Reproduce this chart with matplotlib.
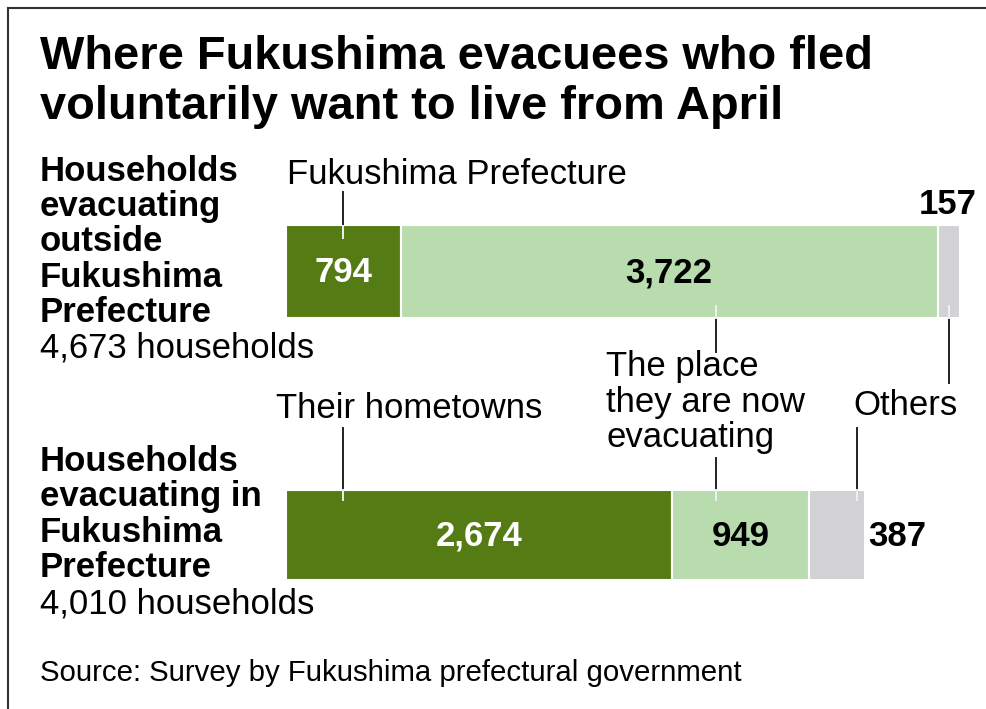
import matplotlib
matplotlib.use("Agg")
import matplotlib.pyplot as plt
from matplotlib.lines import Line2D
from matplotlib.transforms import Affine2D

# data
group_labels = ["Households\nevacuating\noutside\nFukushima\nPrefecture",
                "Households\nevacuating in\nFukushima\nPrefecture"]
totals = ["4,673 households", "4,010 households"]
hometown = [794, 2674]
current_place = [3722, 949]
others = [157, 387]

W, H = 987, 709
DARK = "#557c14"
LIGHT = "#b8dcae"
GREY = "#d2d2d4"
FONT = ["Liberation Sans", "DejaVu Sans"]
LINE_STEP = 35  # px between text lines

fig = plt.figure(figsize=(W / 100, H / 100), dpi=100)
# pixel coordinates, origin top left
pix = Affine2D().scale(1 / W, -1 / H).translate(0, 1) + fig.transFigure

# bar axes: x in households, y in pixels
scale = 0.1443  # px per household
bar_x0 = 286
ax = fig.add_axes([0, 0, 1, 1])
ax.set_xlim(-bar_x0 / scale, (W - bar_x0) / scale)
ax.set_ylim(H, 0)
ax.axis("off")

bar_y = [271.5, 535]
bar_h = [93, 90]
left2 = [a + b for a, b in zip(hometown, current_place)]
ax.barh(bar_y, hometown, height=bar_h, color=DARK, edgecolor="white", linewidth=1.5)
ax.barh(bar_y, current_place, left=hometown, height=bar_h, color=LIGHT,
        edgecolor="white", linewidth=1.5)
ax.barh(bar_y, others, left=left2, height=bar_h, color=GREY,
        edgecolor="white", linewidth=1.5)

# values in bars
NUM = dict(fontsize=25, fontweight="bold", va="center", family=FONT)
for i in range(2):
    ax.text(hometown[i] / 2, bar_y[i] + 1, f"{hometown[i]:,}", color="white",
            ha="center", **NUM)
    ax.text(hometown[i] + current_place[i] / 2, bar_y[i] + 1, f"{current_place[i]:,}",
            color="black", ha="center", **NUM)
ax.text(left2[0] + others[0] + 110, 205, f"{others[0]:,}", ha="right", **NUM)
ax.text(left2[1] + others[1] + 25, bar_y[1] + 1, f"{others[1]:,}", ha="left", **NUM)


def txt(x, y, s, size=25, weight="normal", **kw):
    # y is the baseline of the first line; matplotlib anchors the last one
    y_last = y + (s.count("\n")) * LINE_STEP
    fig.text(x, y_last, s, transform=pix, fontsize=size, fontweight=weight,
             family=FONT, va="baseline", linespacing=1.09, **kw)


def leader(x, y0, y1, yin0, yin1):
    fig.add_artist(Line2D([x, x], [y0, y1], transform=pix, color="#222222", lw=1.4))
    fig.add_artist(Line2D([x, x], [yin0, yin1], transform=pix, color="#f0f0f0", lw=1.4))


# title
txt(40, 69, "Where Fukushima evacuees who fled", size=33.8, weight="bold")
txt(40, 119, "voluntarily want to live from April", size=33.8, weight="bold")

# group labels
txt(40, 182, group_labels[0], weight="bold")
txt(40, 358, totals[0])
txt(40, 472, group_labels[1], weight="bold")
txt(40, 613, totals[1])

# category annotations
txt(287, 184, "Fukushima Prefecture")
leader(343, 192, 226, 226, 238)
txt(606, 377, "The place\nthey are now\nevacuating")
leader(716, 352, 318, 318, 306)
leader(949, 383, 318, 318, 306)
txt(853, 415, "Others")
txt(276, 418, "Their hometowns")
leader(343, 428, 490, 490, 500)
leader(716, 458, 490, 490, 500)
leader(857, 428, 490, 490, 500)

txt(40, 681, "Source: Survey by Fukushima prefectural government", size=21.2)

# frame
fig.add_artist(Line2D([8, 8], [8, H], transform=pix, color="#333333", lw=1.5))
fig.add_artist(Line2D([8, W], [8, 8], transform=pix, color="#333333", lw=1.5))

fig.savefig("out.png", dpi=100, facecolor="white")
